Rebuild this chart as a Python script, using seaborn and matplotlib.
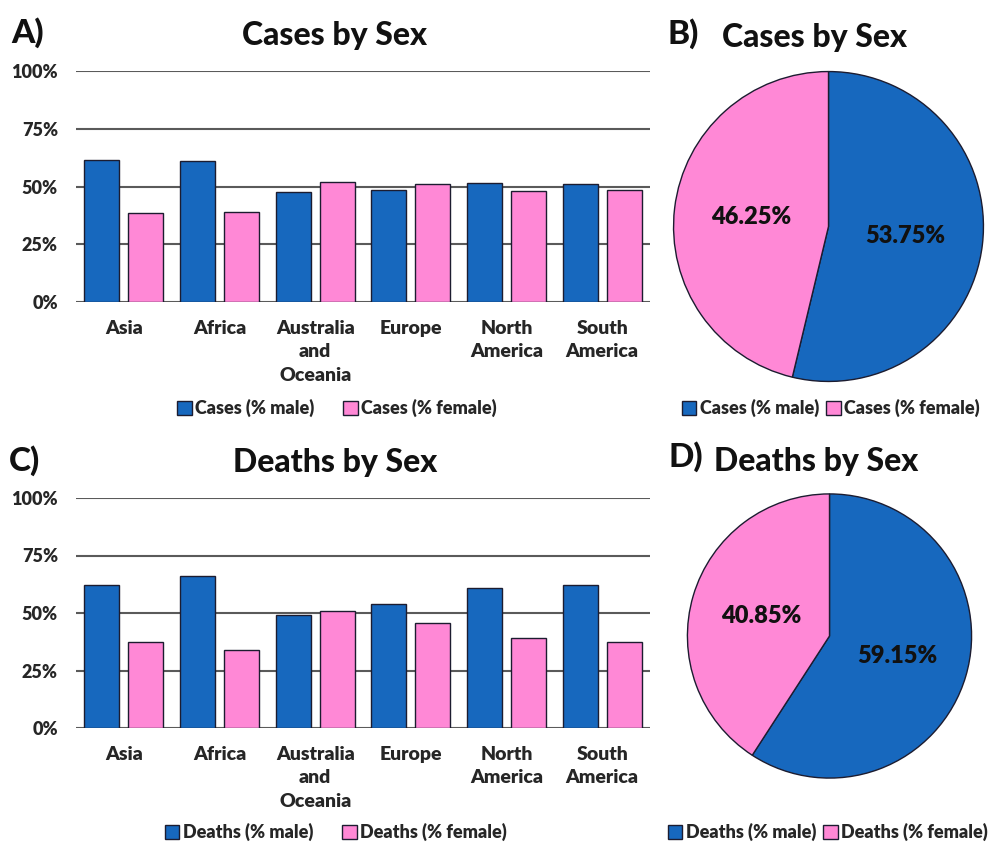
import pandas as pd
import matplotlib.pyplot as plt
import seaborn as sns
from matplotlib.patches import Patch

# data
regions = ["Asia", "Africa", "Australia\nand\nOceania", "Europe",
           "North\nAmerica", "South\nAmerica"]
cases_male = [61.3, 61.0, 47.8, 48.5, 51.7, 51.2]
cases_female = [38.5, 38.8, 51.9, 51.2, 48.1, 48.5]
deaths_male = [62.2, 66.1, 49.2, 54.0, 60.7, 62.2]
deaths_female = [37.6, 33.8, 50.8, 45.7, 39.0, 37.6]
pie_cases = [53.75, 46.25]
pie_deaths = [59.15, 40.85]

BLUE = "#1768BE"
PINK = "#FF88D6"
EDGE = "#1c1c30"
GRID = "#5a5a5a"
WT = "heavy"

sns.set_theme(style="white")
plt.rcParams["font.family"] = ["Lato", "DejaVu Sans"]
plt.rcParams["font.weight"] = WT

fig = plt.figure(figsize=(9.95, 8.44), dpi=100)
W, H = 995, 844


def ax_px(left, top, right, bottom):
    return fig.add_axes([left / W, 1 - bottom / H, (right - left) / W, (bottom - top) / H])


def bar_panel(ax, male, female, prefix):
    df = pd.DataFrame({
        "region": regions * 2,
        "value": male + female,
        "sex": [f"{prefix} (% male)"] * len(regions) + [f"{prefix} (% female)"] * len(regions),
    })
    ax.set_axisbelow(True)
    for v in [0, 25, 50, 75, 100]:
        ax.axhline(v, color=GRID, lw=1.5, zorder=0)
    sns.barplot(data=df, x="region", y="value", hue="sex", ax=ax,
                palette=[BLUE, PINK], saturation=1, width=0.917, gap=0.2,
                edgecolor=EDGE, linewidth=1.0, legend=False)
    ax.set_ylim(0, 100)
    ax.set_xlim(-0.5, len(regions) - 0.5)
    ax.set_yticks([0, 25, 50, 75, 100])
    ax.set_yticklabels(["0%", "25%", "50%", "75%", "100%"])
    ax.set_xlabel("")
    ax.set_ylabel("")
    ax.tick_params(axis="x", length=0, pad=13, labelsize=14)
    ax.tick_params(axis="y", length=0, pad=13, labelsize=13)
    for lab in ax.get_xticklabels():
        lab.set_linespacing(1.45)
        lab.set_fontweight(WT)
    for lab in ax.get_yticklabels():
        lab.set_fontweight(WT)
    sns.despine(ax=ax, left=True, bottom=True)


def pie_panel(ax, vals):
    ax.pie(vals, colors=[BLUE, PINK], startangle=90, counterclock=False,
           autopct="%.2f%%", pctdistance=0.5,
           wedgeprops=dict(edgecolor=EDGE, linewidth=1.0),
           textprops=dict(fontsize=17, fontweight=WT, color="#111111"))
    ax.set_xlim(-1.01, 1.01)
    ax.set_ylim(-1.01, 1.01)
    ax.set_aspect("equal")


def legend_at(x, y, prefix, spacing):
    handles = [Patch(facecolor=BLUE, edgecolor=EDGE, lw=1),
               Patch(facecolor=PINK, edgecolor=EDGE, lw=1)]
    fig.legend(handles, [f"{prefix} (% male)", f"{prefix} (% female)"],
               loc="center", bbox_to_anchor=(x / W, 1 - y / H), ncol=2,
               frameon=False, handlelength=0.8, handleheight=0.8,
               handletextpad=0.2, columnspacing=spacing,
               prop=dict(size=13, weight=WT))


# A) cases bar chart
axA = ax_px(76, 71, 650, 302)
bar_panel(axA, cases_male, cases_female, "Cases")
# C) deaths bar chart
axC = ax_px(76, 498, 650, 728)
bar_panel(axC, deaths_male, deaths_female, "Deaths")
# B) cases pie
axB = ax_px(672, 70, 985, 383)
pie_panel(axB, pie_cases)
# D) deaths pie
axD = ax_px(686, 492, 973, 780)
pie_panel(axD, pie_deaths)

# titles and panel letters
tkw = dict(ha="center", va="center", fontsize=23, fontweight="black", color="#111111")
fig.text(335 / W, 1 - 35 / H, "Cases by Sex", **tkw)
fig.text(335 / W, 1 - 462 / H, "Deaths by Sex", **tkw)
fig.text(815 / W, 1 - 37 / H, "Cases by Sex", **tkw)
fig.text(816 / W, 1 - 461 / H, "Deaths by Sex", **tkw)
lkw = dict(tkw, fontsize=24)
fig.text(28 / W, 1 - 33 / H, "A)", **lkw)
fig.text(683 / W, 1 - 34 / H, "B)", **lkw)
fig.text(25 / W, 1 - 461 / H, "C)", **lkw)
fig.text(686 / W, 1 - 457 / H, "D)", **lkw)

legend_at(337, 408, "Cases", 1.6)
legend_at(831, 408, "Cases", 0.4)
legend_at(336, 832, "Deaths", 1.6)
legend_at(828, 832, "Deaths", 0.4)

plt.savefig("out.png", dpi=100)
plt.close()
